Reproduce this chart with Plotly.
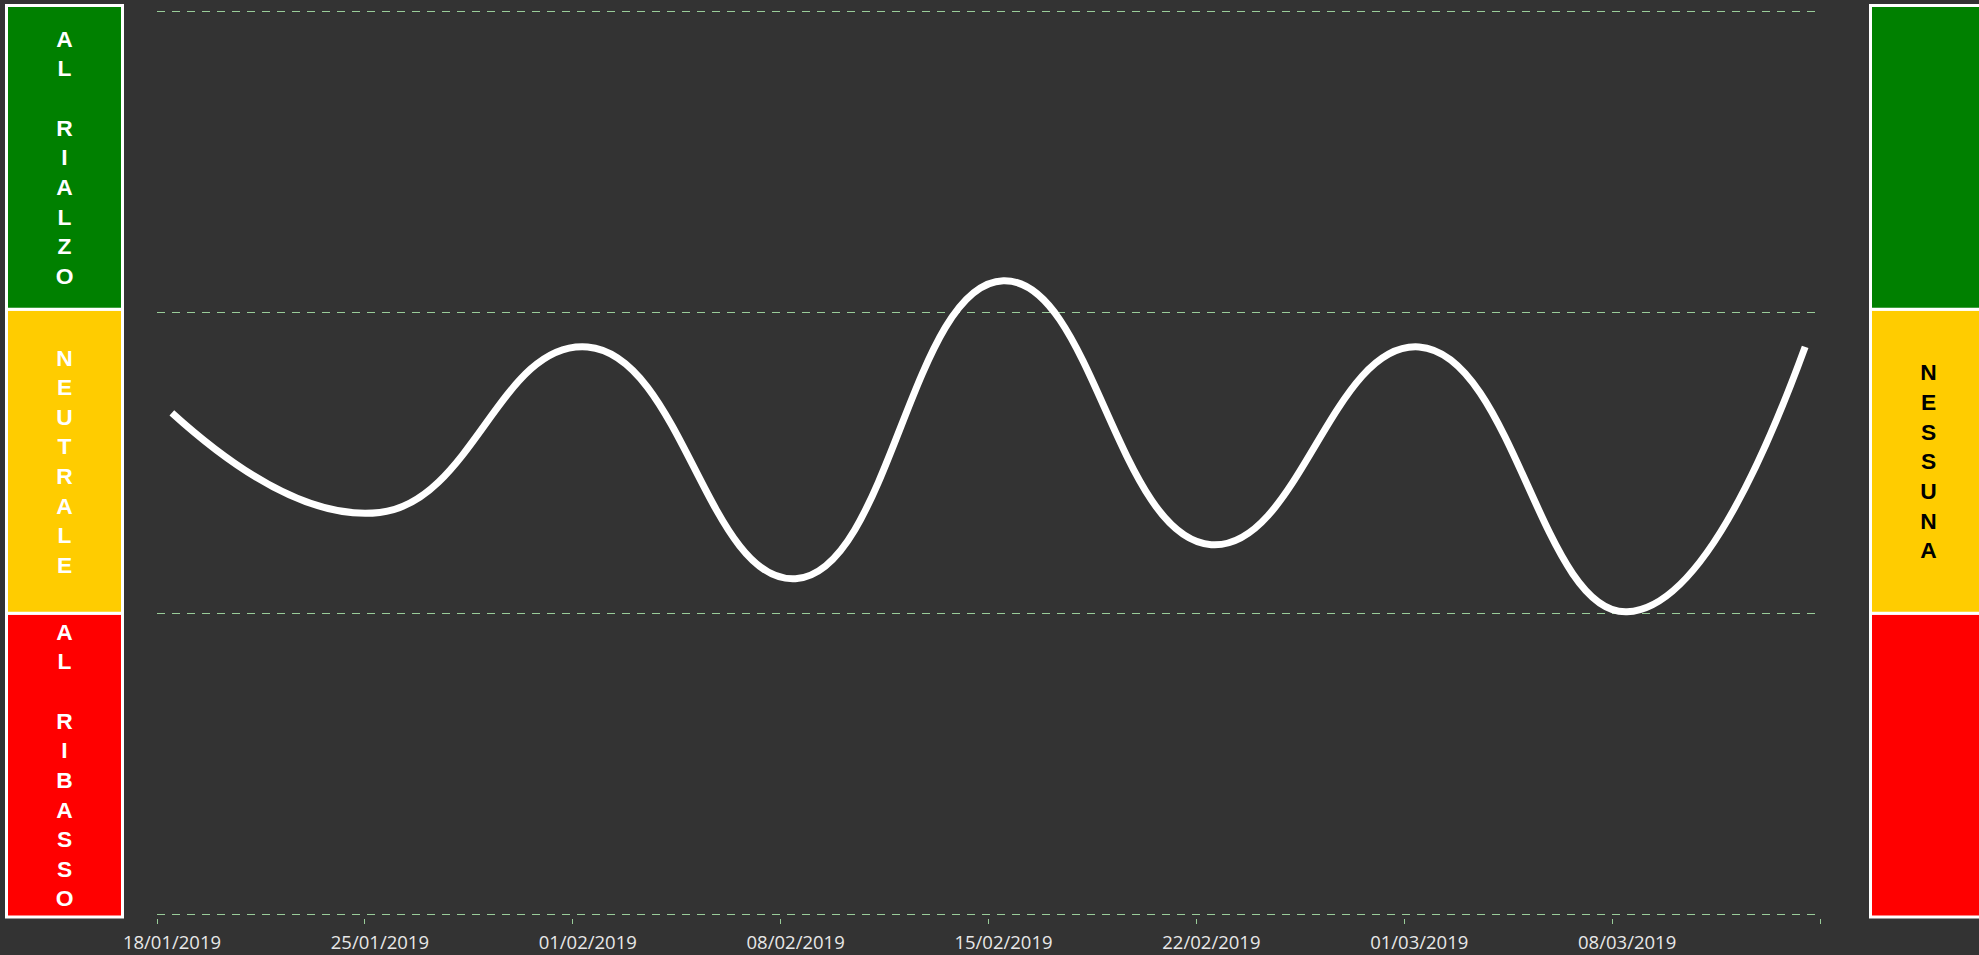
import plotly.graph_objects as go

# ---- data ----
dates = ["2019-01-18 12:00", "2019-01-25 12:00", "2019-02-01 12:00", "2019-02-08 12:00",
         "2019-02-15 12:00", "2019-02-22 12:00", "2019-03-01 12:00", "2019-03-08 12:00",
         "2019-03-14 12:00"]
values = [1.666, 1.335, 1.885, 1.115, 2.105, 1.228, 1.885, 1.005, 1.885]

tick_dates = ["2019-01-18", "2019-01-25", "2019-02-01", "2019-02-08", "2019-02-15",
              "2019-02-22", "2019-03-01", "2019-03-08", "2019-03-15"]
tick_labels = ["18/01/2019", "25/01/2019", "01/02/2019", "08/02/2019", "15/02/2019",
               "22/02/2019", "01/03/2019", "08/03/2019", ""]

band_bases = [0, 1, 2]
band_sizes = [1, 1, 1]
band_colors = ["#ff0000", "#ffcc00", "#008000"]
left_labels = ["AL RIBASSO", "NEUTRALE", "AL RIALZO"]
right_labels = ["", "NESSUNA", ""]
right_text_colors = ["#000000", "#000000", "#000000"]

W, H = 1979, 955
BG = "#333333"
GRID = "#99cc99"


def stack(s):
    return "<br>".join(list(s))


fig = go.Figure()

fig.add_trace(go.Scatter(
    x=dates, y=values, mode="lines",
    line=dict(color="white", width=7, shape="spline", smoothing=1.3),
    hoverinfo="skip", showlegend=False, xaxis="x", yaxis="y",
))

fig.add_trace(go.Bar(
    x=[0] * 3, y=band_sizes, base=band_bases, width=1,
    marker=dict(color=band_colors, line=dict(color="white", width=3)),
    text=[stack(s) for s in left_labels], textposition="inside",
    insidetextanchor="middle", textangle=0, constraintext="none",
    textfont=dict(family="Liberation Sans, Arial", size=22.8, color="white", weight="bold"),
    hoverinfo="skip", showlegend=False, xaxis="x2", yaxis="y2",
))

fig.add_trace(go.Bar(
    x=[0] * 3, y=band_sizes, base=band_bases, width=1,
    marker=dict(color=band_colors, line=dict(color="white", width=3)),
    text=[stack(s) for s in right_labels], textposition="inside",
    insidetextanchor="middle", textangle=0, constraintext="none",
    textfont=dict(family="Liberation Sans, Arial", size=22.8, color=right_text_colors, weight="bold"),
    hoverinfo="skip", showlegend=False, xaxis="x3", yaxis="y2",
))

top_px, bot_px = 3, 919
ph = bot_px - top_px
unit = 301.0
y0_px = 914.3
eps = 4.0 / unit  # small padding so edge gridlines are kept


def ypaper(py):
    return (bot_px - py) / ph


unit_p = 303.8
fig.update_layout(
    width=W, height=H,
    autosize=False,
    paper_bgcolor=BG, plot_bgcolor=BG,
    margin=dict(l=0, r=0, t=top_px, b=H - bot_px, pad=0, autoexpand=False),
    barmode="overlay",
    showlegend=False,
    xaxis=dict(
        domain=[157 / W, 1820 / W], type="date",
        range=["2019-01-18", "2019-03-15"],
        tickmode="array", tickvals=tick_dates, ticktext=tick_labels,
        ticks="outside", ticklen=5, tickwidth=1, tickcolor=GRID,
        showgrid=False, showline=False, zeroline=False,
        ticklabelshift=15, ticklabelstandoff=2, automargin=False,
        tickfont=dict(family="Open Sans, Noto Sans", size=18.5, color="#e8e8e8"),
        anchor="y",
    ),
    yaxis=dict(
        domain=[ypaper(y0_px + eps * unit), ypaper(y0_px - (3 + eps) * unit)],
        range=[-eps, 3 + eps],
        tickmode="array", tickvals=[0, 1, 2, 3],
        showticklabels=False, ticks="",
        showgrid=True, gridcolor=GRID, gridwidth=1, griddash="7.5px,7.5px",
        zeroline=False, showline=False, anchor="x", automargin=False,
    ),
    xaxis2=dict(
        domain=[4 / W, 125 / W], range=[-0.5 - 2.5 / 116, 0.5 + 2.5 / 116],
        visible=False, fixedrange=True, anchor="y2", automargin=False,
    ),
    xaxis3=dict(
        domain=[1868 / W, 1.0], range=[-0.5 - 2.5 / 116, -0.5 + (W - 1870.5) / 116],
        visible=False, fixedrange=True, anchor="y2", automargin=False,
    ),
    yaxis2=dict(
        domain=[0, 1], range=[-2 / unit_p, 3 + 2.5 / unit_p],
        visible=False, fixedrange=True, anchor="x2", automargin=False,
    ),
)

fig.write_html("out.html", config={"displayModeBar": False, "responsive": False})

with open("out.html", "r", encoding="utf-8") as f:
    html = f.read()
html = html.replace(
    "<head>",
    "<head><style>html,body{margin:0;padding:0;overflow:hidden;background:#333333;}</style>",
    1,
)
with open("out.html", "w", encoding="utf-8") as f:
    f.write(html)
